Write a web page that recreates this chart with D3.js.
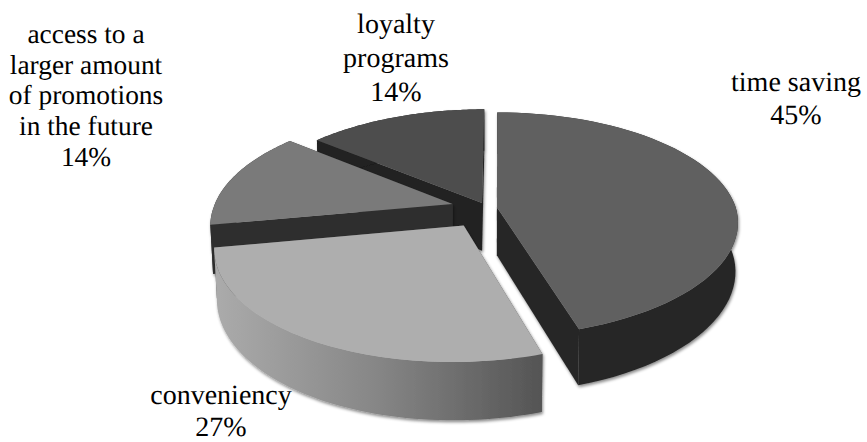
<!DOCTYPE html>
<html><head><meta charset="utf-8">
<script src="https://cdnjs.cloudflare.com/ajax/libs/d3/7.8.5/d3.min.js"></script>
<style>html,body{margin:0;padding:0;background:#fff;overflow:hidden}svg{display:block}text{text-rendering:geometricPrecision}</style>
</head><body>
<svg id="c" width="867" height="442"></svg>
<script>
const categories = ["time saving","conveniency","access to a larger amount of promotions in the future","loyalty programs"];
const shares = [45,27,14,14];
const labelLines = [["time saving","45%"],["conveniency","27%"],["access to a","larger amount","of promotions","in the future","14%"],["loyalty","programs","14%"]];
const labelAnchors = [[796,91],[221,404],[86,43],[396,33]];
const labelGaps = [33,32,30.7,34];
const labelSizes = [28,28,27.4,28];
const explode = [0.042,0.18,0.15,0.05];
const topColors = ["#606060","#aeaeae","#7a7a7a","#4d4d4d"];
const wallColors = ["#282828","url(#rim2)","#2f2f2f","#202020"];
const cutColors = ["#282828","#555","#2f2f2f","#202020"];

const cx=487,cy=208,R=239,Ry=109.6,p=0.154,hxFront=-35,hxBack=-12,depth=48,bottomScale=0.99;
const svg=d3.select("#c");
const defs=svg.append("defs");
const g=defs.append("linearGradient").attr("id","rim2").attr("gradientUnits","userSpaceOnUse").attr("x1",215).attr("x2",540).attr("y1",0).attr("y2",0);
[[0,"#ababab"],[0.5,"#868686"],[1,"#555555"]].forEach(s=>g.append("stop").attr("offset",s[0]).attr("stop-color",s[1]));
const f=defs.append("filter").attr("id","sh").attr("x","-10%").attr("y","-10%").attr("width","120%").attr("height","125%");
f.append("feDropShadow").attr("dx",1).attr("dy",2).attr("stdDeviation",1.5).attr("flood-color","#000").attr("flood-opacity",0.45);

const pie=d3.pie().sort(null).value(d=>d)(shares);
function proj(U,V,bottom){const s=1/(1-p*V);const b=bottom?bottomScale:1;const hx=V>0?hxFront:hxBack;
  return [cx+(R*U*s+hx*(s-1))*b, cy+Ry*V*s+(bottom?depth*s:0)];}
const line=d3.line();
const order=[3,2,0,1];
order.forEach(i=>{
  const a=pie[i],mid=(a.startAngle+a.endAngle)/2,U0=Math.sin(mid)*explode[i],V0=-Math.cos(mid)*explode[i];
  const ts=d3.range(0,61).map(k=>a.startAngle+(a.endAngle-a.startAngle)*k/60);
  const rim=b=>ts.map(t=>proj(U0+Math.sin(t),V0-Math.cos(t),b));
  const apex=b=>proj(U0,V0,b);
  const layer=svg.append("g").attr("filter","url(#sh)");
  const r0=rim(false),r1=rim(true);
  layer.append("path").attr("d",line([apex(false),r0[60],r1[60],apex(true)])+"Z").attr("fill",cutColors[i]);
  layer.append("path").attr("d",line([apex(false),r0[0],r1[0],apex(true)])+"Z").attr("fill",cutColors[i]);
  layer.append("path").attr("d",line(r0.concat(r1.slice().reverse()))+"Z").attr("fill",wallColors[i]);
  layer.append("path").attr("d",line([apex(false)].concat(r0))+"Z").attr("fill",topColors[i]);
});
labelLines.forEach((ls,i)=>{
  const t=svg.append("text").attr("text-anchor","middle").attr("x",labelAnchors[i][0]).attr("y",labelAnchors[i][1])
    .attr("font-family","'Liberation Serif','Times New Roman',serif").attr("font-size",labelSizes[i]).attr("fill","#000");
  ls.forEach((s,k)=>t.append("tspan").attr("x",labelAnchors[i][0]).attr("dy",k?labelGaps[i]:0).text(s));
});
</script></body></html>
